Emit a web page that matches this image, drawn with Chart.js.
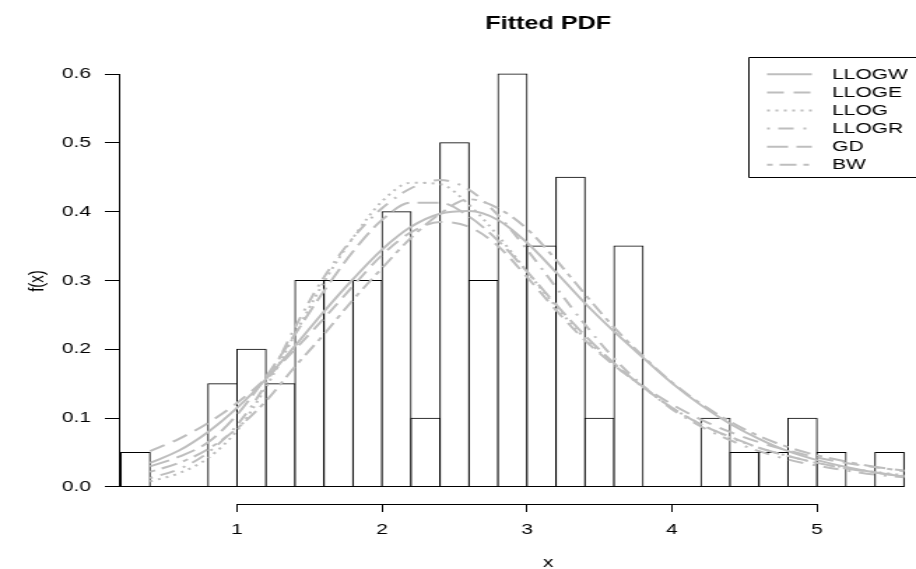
<!DOCTYPE html>
<html>
<head>
<meta charset="utf-8">
<script src="https://cdn.jsdelivr.net/npm/chart.js@4.4.1/dist/chart.umd.min.js"></script>
<style>
  html, body { margin: 0; padding: 0; background: #ffffff; overflow: hidden; width: 916px; height: 569px; }
  #wrap { position: absolute; left: 0; top: 0; width: 655px; height: 569px; transform: scaleX(1.398473); transform-origin: 0 0; }
  canvas { display: block; }
</style>
</head>
<body>
<div id="wrap"><canvas id="c" width="655" height="569"></canvas></div>
<script>
// ---------- data ----------
const breaks  = [0.2,0.4,0.6,0.8,1.0,1.2,1.4,1.6,1.8,2.0,2.2,2.4,2.6,2.8,3.0,3.2,3.4,3.6,3.8,4.0,4.2,4.4,4.6,4.8,5.0,5.2,5.4,5.6];
const density = [0.05,0,0,0.15,0.2,0.15,0.3,0.3,0.3,0.4,0.1,0.5,0.3,0.6,0.35,0.45,0.1,0.35,0,0,0.1,0.05,0.05,0.1,0.05,0,0.05];

const curveX = [0.4,0.6,0.8,1.0,1.2,1.4,1.6,1.8,2.0,2.2,2.4,2.6,2.8,3.0,3.2,3.4,3.6,3.8,4.0,4.2,4.4,4.6,4.8,5.0,5.2,5.4,5.6];
const LLOGW = [0.035,0.053,0.080,0.115,0.157,0.205,0.255,0.302,0.345,0.378,0.397,0.401,0.388,0.355,0.312,0.267,0.226,0.188,0.151,0.119,0.092,0.070,0.052,0.039,0.029,0.021,0.015];
const LLOGE = [0.052,0.070,0.093,0.122,0.158,0.200,0.245,0.292,0.337,0.370,0.385,0.378,0.350,0.305,0.257,0.213,0.177,0.146,0.120,0.098,0.080,0.065,0.053,0.043,0.035,0.029,0.024];
const LLOG  = [0.008,0.020,0.042,0.082,0.145,0.222,0.298,0.362,0.415,0.442,0.440,0.410,0.365,0.313,0.262,0.216,0.178,0.145,0.115,0.091,0.072,0.057,0.045,0.035,0.028,0.022,0.017];
const LLOGR = [0.013,0.026,0.050,0.090,0.150,0.232,0.305,0.362,0.405,0.434,0.446,0.432,0.395,0.345,0.290,0.236,0.187,0.147,0.113,0.088,0.068,0.052,0.040,0.031,0.024,0.018,0.014];
const GD    = [0.030,0.044,0.065,0.105,0.160,0.222,0.285,0.342,0.388,0.413,0.413,0.393,0.358,0.313,0.265,0.220,0.180,0.145,0.115,0.091,0.073,0.057,0.045,0.035,0.027,0.021,0.016];
const BW    = [0.022,0.035,0.055,0.085,0.125,0.175,0.222,0.272,0.318,0.362,0.397,0.418,0.405,0.375,0.330,0.280,0.232,0.190,0.152,0.121,0.095,0.074,0.058,0.046,0.037,0.029,0.023];

const seriesNames = ['LLOGW','LLOGE','LLOG','LLOGR','GD','BW'];
const xTicks = [1,2,3,4,5];
const yTicks = [0,0.1,0.2,0.3,0.4,0.5,0.6];
const titleText = 'Fitted PDF';
const xTitle = 'x';
const yTitle = 'f(x)';

// ---------- styles ----------
const FONT = '"Liberation Sans", Arial, Helvetica, sans-serif';
const GRAY = '#bebebe';
const dashes = [[], [12,7], [2,4], [2,6,11,7], [15,6], [4,5,12,5]];
const seriesValues = [LLOGW, LLOGE, LLOG, LLOGR, GD, BW];

const curveSets = seriesNames.map((name, k) => ({
  type: 'line',
  label: name,
  data: curveX.map((x, i) => ({ x: x, y: seriesValues[k][i] })),
  borderColor: GRAY,
  borderWidth: 2,
  borderDash: dashes[k],
  pointRadius: 0,
  fill: false,
  cubicInterpolationMode: 'monotone',
  order: 0
}));

const histSet = {
  type: 'bar',
  label: 'hist',
  data: density.map((v, i) => ({ x: (breaks[i] + breaks[i + 1]) / 2, y: v })),
  backgroundColor: '#ffffff',
  borderColor: '#000000',
  borderWidth: 1,
  borderSkipped: false,
  inflateAmount: 0.5,
  barPercentage: 1,
  categoryPercentage: 1,
  order: 1
};

const extras = {
  id: 'extras',
  beforeDatasetsDraw(chart) {
    const ctx = chart.ctx, xs = chart.scales.x, ys = chart.scales.y;
    ctx.save();
    ctx.strokeStyle = '#000'; ctx.lineWidth = 1;
    const y0 = Math.round(ys.getPixelForValue(0) - 0.5) + 0.5;
    ctx.beginPath();
    ctx.moveTo(xs.getPixelForValue(breaks[0]), y0);
    ctx.lineTo(xs.getPixelForValue(breaks[breaks.length - 1]), y0);
    ctx.stroke();
    ctx.restore();
  },
  afterDraw(chart) {
    const ctx = chart.ctx, xs = chart.scales.x, ys = chart.scales.y, ca = chart.chartArea;
    ctx.save();
    ctx.strokeStyle = '#000'; ctx.lineWidth = 1; ctx.setLineDash([]);
    // x axis line (first to last tick)
    const yA = Math.round(ca.bottom - 0.5) + 0.5;
    ctx.beginPath();
    ctx.moveTo(xs.getPixelForValue(xTicks[0]), yA);
    ctx.lineTo(xs.getPixelForValue(xTicks[xTicks.length - 1]), yA);
    ctx.stroke();
    // y axis line (first to last tick)
    const xA = Math.round(ca.left - 0.5) + 0.5;
    ctx.beginPath();
    ctx.moveTo(xA, ys.getPixelForValue(yTicks[0]));
    ctx.lineTo(xA, ys.getPixelForValue(yTicks[yTicks.length - 1]));
    ctx.stroke();

    ctx.fillStyle = '#000';
    // title
    ctx.font = 'bold 18px ' + FONT;
    ctx.textAlign = 'center'; ctx.textBaseline = 'middle';
    ctx.fillText(titleText, 392, 24);
    // x title
    ctx.font = '15px ' + FONT;
    ctx.fillText(xTitle, 392, 563);
    // y title
    ctx.save();
    ctx.translate(26.5, 281);
    ctx.rotate(-Math.PI / 2);
    ctx.fillText(yTitle, 0, 0);
    ctx.restore();

    // legend
    const lx = 535, ly = 57.5, lh = 120;
    ctx.beginPath();
    ctx.rect(lx + 0.5, ly, 300, lh);
    ctx.stroke();
    const lines = chart.data.datasets.filter(d => d.type === 'line');
    ctx.textAlign = 'left'; ctx.textBaseline = 'middle';
    ctx.font = '15px ' + FONT;
    lines.forEach((d, i) => {
      const yy = 74.3 + i * 18.1;
      ctx.save();
      ctx.strokeStyle = d.borderColor; ctx.lineWidth = d.borderWidth;
      ctx.setLineDash(d.borderDash);
      ctx.beginPath();
      ctx.moveTo(548.5, yy); ctx.lineTo(580.5, yy);
      ctx.stroke();
      ctx.restore();
      ctx.fillStyle = '#000';
      ctx.fillText(d.label, 595, yy + 0.5);
    });
    ctx.restore();
  }
};

new Chart(document.getElementById('c'), {
  type: 'bar',
  data: { datasets: [...curveSets, histSet] },
  options: {
    responsive: false,
    animation: false,
    events: [],
    layout: { padding: { top: 57.5, left: 0, right: 0, bottom: 0 } },
    plugins: { legend: { display: false }, title: { display: false }, tooltip: { enabled: false } },
    scales: {
      x: {
        type: 'linear', offset: false, min: 0.1853, max: 5.6828,
        afterBuildTicks: s => { s.ticks = xTicks.map(v => ({ value: v })); },
        afterFit: s => { s.height = 65; },
        border: { display: false },
        grid: { offset: false, drawOnChartArea: false, drawTicks: true, tickLength: 8, color: '#000', lineWidth: 1 },
        ticks: { color: '#000', padding: 9, maxRotation: 0, autoSkip: false, font: { family: FONT, size: 15 }, callback: v => String(v) }
      },
      y: {
        type: 'linear', min: -0.0247, max: 0.624,
        afterBuildTicks: s => { s.ticks = yTicks.map(v => ({ value: v })); },
        afterFit: s => { s.width = 85; },
        border: { display: false },
        grid: { drawOnChartArea: false, drawTicks: true, tickLength: 10, color: '#000', lineWidth: 1 },
        ticks: { color: '#000', padding: 10, autoSkip: false, font: { family: FONT, size: 15 }, callback: v => Number(v).toFixed(1) }
      }
    }
  },
  plugins: [extras]
});
</script>
</body>
</html>
